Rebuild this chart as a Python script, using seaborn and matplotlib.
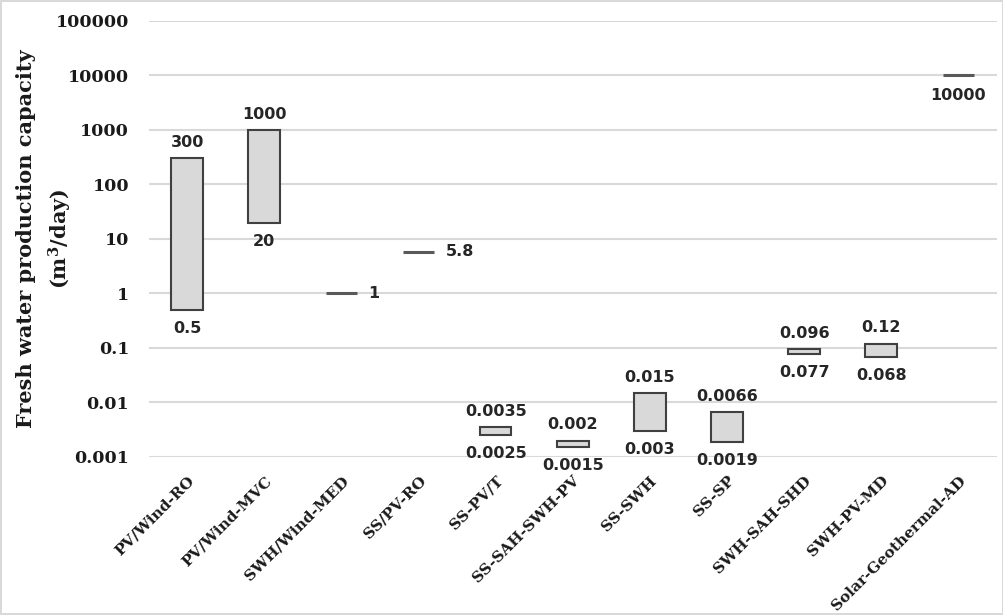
import matplotlib
matplotlib.use("Agg")
import matplotlib.pyplot as plt
import seaborn as sns
import pandas as pd
import numpy as np

# Desalination system configurations and their fresh water capacity ranges (m3/day)
categories = ["PV/Wind-RO", "PV/Wind-MVC", "SWH/Wind-MED", "SS/PV-RO", "SS-PV/T",
              "SS-SAH-SWH-PV", "SS-SWH", "SS-SP", "SWH-SAH-SHD", "SWH-PV-MD",
              "Solar-Geothermal-AD"]
low_values = [0.5, 20, 1, 5.8, 0.0025, 0.0015, 0.003, 0.0019, 0.077, 0.068, 10000]
high_values = [300, 1000, 1, 5.8, 0.0035, 0.002, 0.015, 0.0066, 0.096, 0.12, 10000]
low_labels = ["0.5", "20", "1", "5.8", "0.0025", "0.0015", "0.003", "0.0019", "0.077", "0.068", "10000"]
high_labels = ["300", "1000", "", "", "0.0035", "0.002", "0.015", "0.0066", "0.096", "0.12", ""]
y_ticks = [0.001, 0.01, 0.1, 1, 10, 100, 1000, 10000, 100000]
y_tick_labels = ["0.001", "0.01", "0.1", "1", "10", "100", "1000", "10000", "100000"]

sns.set_theme(style="white")
plt.rcParams["font.family"] = ["DejaVu Serif"]
plt.rcParams["mathtext.fontset"] = "dejavuserif"

df = pd.DataFrame({"system": categories, "low": low_values, "high": high_values})
df["span"] = df["high"] - df["low"]
ranges = df[df["span"] > 0]
singles = df[df["span"] == 0]

fig = plt.figure(figsize=(10.04, 6.15), dpi=100)
fig.patch.set_edgecolor("#d9d9d9")
fig.patch.set_linewidth(1.5)
ax = fig.add_axes([0.148, 0.257, 0.845, 0.709])

bar_w = 0.41
sns.barplot(data=ranges, x="system", y="span", order=categories,
            bottom=ranges["low"].to_numpy(), width=bar_w,
            color="#d9d9d9", edgecolor="#404040", linewidth=1.5,
            saturation=1, ax=ax, zorder=3)

pos = {c: i for i, c in enumerate(categories)}
for _, r in singles.iterrows():
    i = pos[r["system"]]
    ax.hlines(r["low"], i - bar_w / 2, i + bar_w / 2, color="#595959", lw=2.2, zorder=3)

ax.set_yscale("log")
ax.set_ylim(0.001, 100000)
ax.set_xlim(-0.5, len(categories) - 0.5)
ax.set_yticks(y_ticks)
ax.set_yticklabels(y_tick_labels)
ax.yaxis.set_minor_locator(matplotlib.ticker.NullLocator())
ax.grid(axis="y", color="#d9d9d9", lw=1.5, zorder=0)
ax.grid(axis="x", visible=False)
for s in ax.spines.values():
    s.set_visible(False)

ax.tick_params(axis="y", length=0, pad=14, labelsize=12.5, labelcolor="#1a1a1a")
for t in ax.get_yticklabels():
    t.set_fontweight("bold")
ax.tick_params(axis="x", length=0, pad=12)
ax.set_xticks(range(len(categories)))
ax.set_xticklabels(categories, rotation=45, ha="right", rotation_mode="anchor",
                   fontsize=11, fontweight="bold", color="#1a1a1a")
ax.set_xlabel("")

ax.set_ylabel("Fresh water production capacity\n(m$^{\\mathbf{3}}$/day)", fontsize=15,
              fontweight="bold", color="#1a1a1a", linespacing=1.5)
ax.yaxis.label.set_va("center")
ax.yaxis.set_label_coords(-0.122, 0.5)

lab_kw = dict(fontsize=11.5, fontweight="bold", color="#262626", family="DejaVu Sans",
              textcoords="offset points")
for i, c in enumerate(categories):
    lo, hi = low_values[i], high_values[i]
    if hi > lo:
        ax.annotate(high_labels[i], (i, hi), xytext=(0, 6), ha="center", va="bottom", **lab_kw)
        ax.annotate(low_labels[i], (i, lo), xytext=(0, -8), ha="center", va="top", **lab_kw)
    elif hi >= 100:
        ax.annotate(low_labels[i], (i, lo), xytext=(0, -9), ha="center", va="top", **lab_kw)
    else:
        ax.annotate(low_labels[i], (i + bar_w / 2, lo), xytext=(8, 0), ha="left", va="center", **lab_kw)

fig.savefig("out.png", dpi=100)
